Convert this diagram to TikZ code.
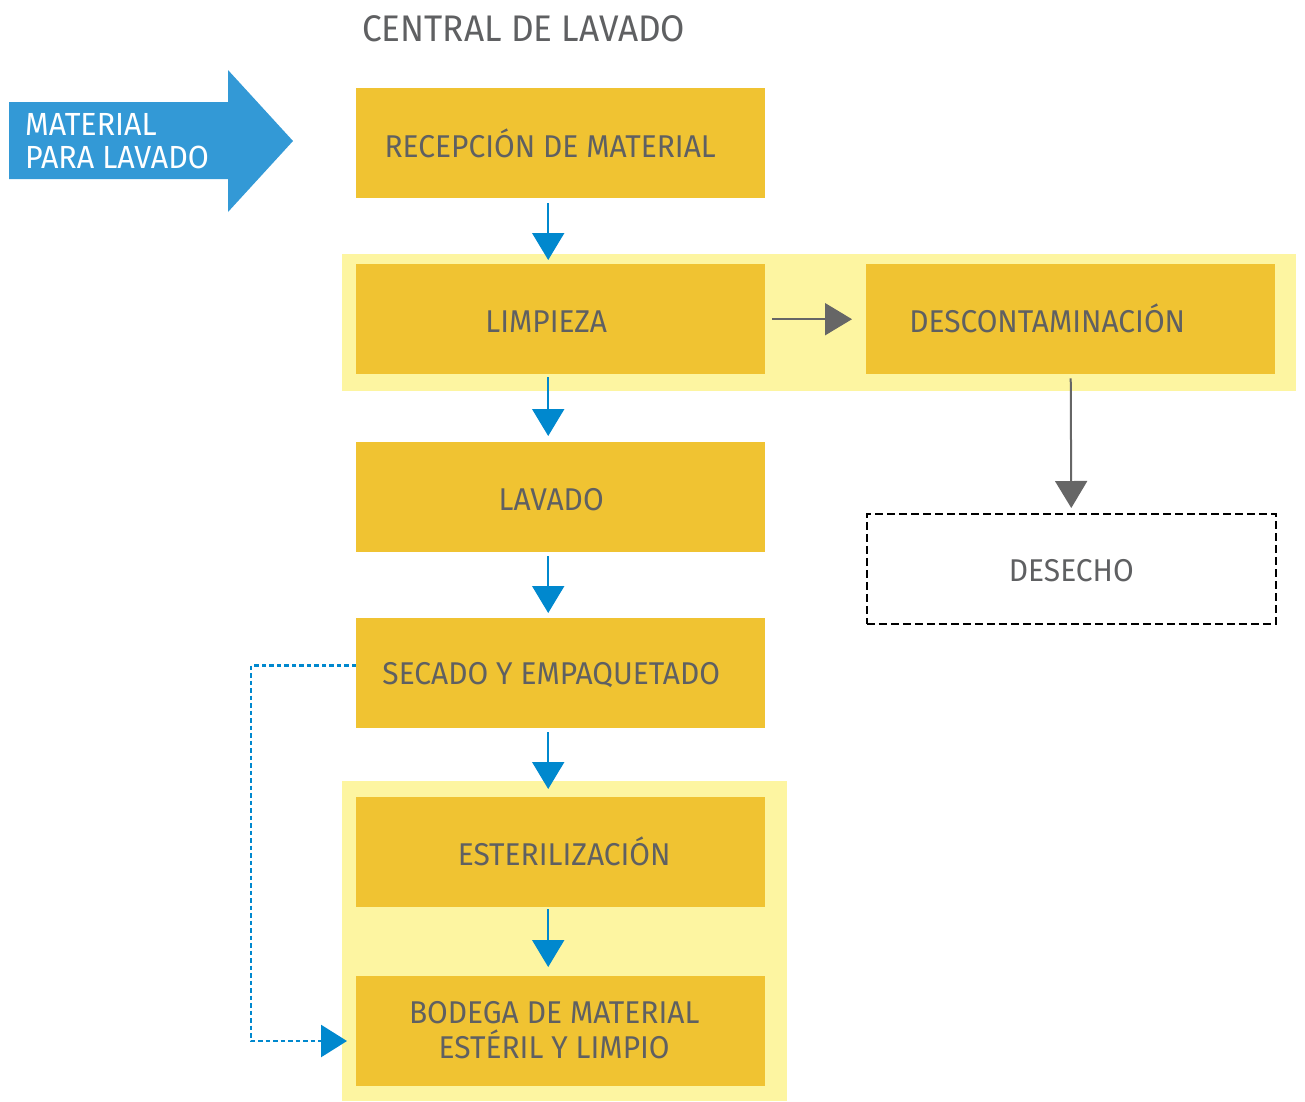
\documentclass[tikz,border=0pt]{standalone}
\usepackage{fontspec}
\setmainfont[FakeStretch=0.95]{Fira Sans}
\usetikzlibrary{arrows.meta}
\definecolor{boxgold}{HTML}{F0C332}
\definecolor{bandyellow}{HTML}{FDF5A1}
\definecolor{inblue}{HTML}{3399D6}
\definecolor{flowblue}{HTML}{0088CE}
\definecolor{flowgray}{HTML}{666666}
\definecolor{labelgray}{HTML}{5F6062}
\begin{document}
\begin{tikzpicture}[x=1pt,y=-1pt,
  caption/.style={text=labelgray, align=center, inner sep=0pt,
    font=\fontsize{31.5}{35}\selectfont},
  stage/.style={fill=boxgold, minimum width=409pt, minimum height=110pt,
    inner sep=0pt, anchor=north west},
  wastebox/.style={draw=black, line width=1.6pt, dash pattern=on 8pt off 4pt,
    minimum width=409pt, minimum height=110pt, inner sep=0pt,
    anchor=north west},
  flow/.style={draw=flowblue, line width=2pt,
    -{Triangle[length=27pt,width=32pt]}},
  grayflow/.style={draw=flowgray, line width=2pt,
    -{Triangle[length=27pt,width=32pt]}},
  bypass/.style={draw=flowblue, line width=2.6pt, dash pattern=on 4.5pt off 3pt,
    -{Triangle[length=26pt,width=32pt]}}]
\useasboundingbox (0,0) rectangle (1305,1101);

% light background bands grouping stages
\fill[bandyellow] (342,254) rectangle (1296,391);
\fill[bandyellow] (342,781) rectangle (787,1101);

% title
\node[anchor=base west, text=labelgray, font=\fontsize{37}{44}\selectfont,
  inner sep=0pt] (title) at (362,41) {CENTRAL DE LAVADO};

% incoming material arrow
\fill[inblue] (9,102) -- (228,102) -- (228,70) -- (293,141) -- (228,212)
  -- (228,179) -- (9,179) -- cycle;
\node[anchor=west, text=white, align=left, inner sep=0pt,
  font=\fontsize{32}{33}\selectfont] (input) at (25,141)
  {MATERIAL\\PARA LAVADO};

% process stages
\node[stage, label={[caption, xshift=-10.5pt, yshift=-0.5pt]center:RECEPCIÓN DE MATERIAL}]
  (recep) at (356,88) {};
\node[stage, label={[caption, xshift=-14.5pt, yshift=-2pt]center:LIMPIEZA}]
  (limp) at (356,264) {};
\node[stage, label={[caption, xshift=-23.5pt, yshift=1pt]center:DESCONTAMINACIÓN}]
  (desc) at (866,264) {};
\node[stage, label={[caption, xshift=-9.5pt, yshift=-2.5pt]center:LAVADO}]
  (lav) at (356,442) {};
\node[wastebox, label={[caption, yshift=-2pt]center:DESECHO}]
  (desecho) at (866,513) {};
\node[stage, label={[caption, xshift=-9.5pt, yshift=-1.5pt]center:SECADO Y EMPAQUETADO}]
  (sec) at (356,618) {};
\node[stage, label={[caption, xshift=3.5pt, yshift=1pt]center:ESTERILIZACIÓN}]
  (ester) at (356,797) {};
\node[stage, label={[caption, xshift=-6.5pt, yshift=1.5pt]center:BODEGA DE MATERIAL\\ESTÉRIL Y LIMPIO}]
  (bod) at (356,976) {};

% main flow
\draw[flow, shorten <=5pt, shorten >=4pt]
  ([xshift=-12.5pt]recep.south) -- ([xshift=-12.5pt]limp.north);
\draw[flow, shorten <=3pt, shorten >=6pt]
  ([xshift=-12.5pt]limp.south) -- ([xshift=-12.5pt]lav.north);
\draw[flow, shorten <=4pt, shorten >=5pt]
  ([xshift=-12.5pt]lav.south) -- ([xshift=-12.5pt]sec.north);
\draw[flow, shorten <=4pt, shorten >=8pt]
  ([xshift=-12.5pt]sec.south) -- ([xshift=-12.5pt]ester.north);
\draw[flow, shorten <=2pt, shorten >=9pt]
  ([xshift=-12.5pt]ester.south) -- ([xshift=-12.5pt]bod.north);

% decontamination branch
\draw[grayflow, shorten <=7pt, shorten >=14pt] (limp.east) -- (desc.west);
\draw[grayflow, shorten <=4pt, shorten >=5pt] (desc.south) -- (desecho.north);

% direct route to storage
\coordinate (bend) at (251,1041);
\draw[bypass, shorten >=9pt]
  ([yshift=7.5pt]sec.west) -| (bend) -- (bod.west |- bend);
\end{tikzpicture}
\end{document}
